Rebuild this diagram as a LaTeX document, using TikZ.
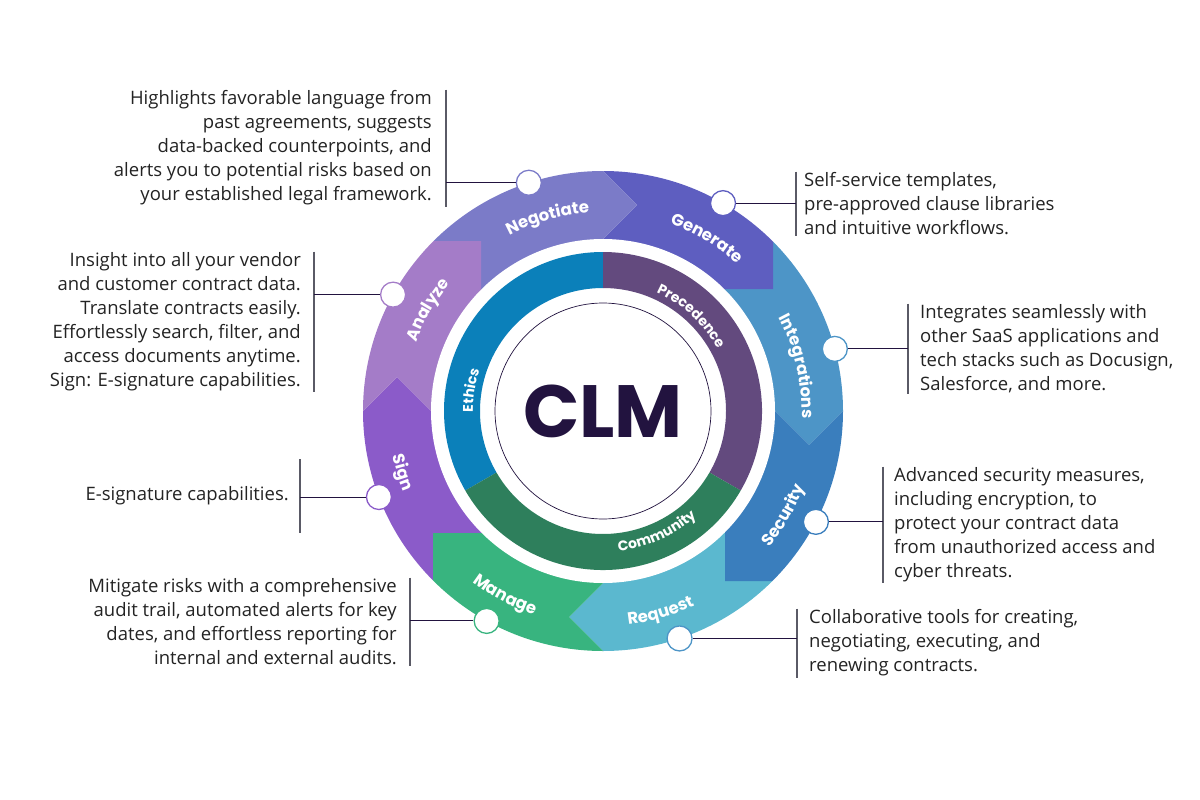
\documentclass[tikz,border=0pt]{standalone}
\usepackage{fontspec}
\setmainfont{Open Sans}
\newfontfamily\wheelfont{Poppins}
\newfontfamily\logofont{Poppins}
\usetikzlibrary{decorations.text}

\definecolor{negotiatecol}{HTML}{7B7BC8}
\definecolor{generatecol}{HTML}{5E5EC0}
\definecolor{integrationscol}{HTML}{4D95C7}
\definecolor{securitycol}{HTML}{3A7EBD}
\definecolor{requestcol}{HTML}{5BB8CF}
\definecolor{managecol}{HTML}{38B47F}
\definecolor{signcol}{HTML}{8B5BC9}
\definecolor{analyzecol}{HTML}{A47CC8}
\definecolor{ethicscol}{HTML}{0B80BA}
\definecolor{precedencecol}{HTML}{634A7E}
\definecolor{communitycol}{HTML}{2E7F5C}
\definecolor{clmdark}{HTML}{22133F}
\definecolor{notegray}{HTML}{232323}
\definecolor{bargray}{HTML}{5A5A66}

% curved labels: angle, baseline radius, size, text
\newcommand{\cwlabel}[4]{%
  \path[decorate, decoration={text along path, text align=center,
    text={|\wheelfont\bfseries\fontsize{#3}{#3}\selectfont\color{white}|#4}}]
    (#1+50:#2) arc[start angle=#1+50, end angle=#1-50, radius=#2];}
\newcommand{\ccwlabel}[4]{%
  \path[decorate, decoration={text along path, text align=center,
    text={|\wheelfont\bfseries\fontsize{#3}{#3}\selectfont\color{white}|#4}}]
    (#1-50:#2) arc[start angle=#1-50, end angle=#1+50, radius=#2];}

\tikzset{
  note/.style={font=\fontsize{18.5}{24}\selectfont, text=notegray, inner xsep=0pt, inner ysep=1pt},
  bar/.style={draw=bargray, line width=1.2pt},
  link/.style={draw=clmdark, line width=1pt},
  dot/.style={circle, fill=white, draw=#1, line width=1.3pt, minimum size=25pt, inner sep=0pt},
}

\begin{document}
\begin{tikzpicture}[x=1pt, y=-1pt]
  \useasboundingbox (0,0) rectangle (1200,800);

  \begin{scope}[shift={(603,411)}, y=1pt]
    % outer ring, one quadrant at a time
    \begin{scope}
      \clip (0,0) circle[radius=240];
      \foreach \i/\ca/\cb in {0/generatecol/integrationscol, 1/securitycol/requestcol,
                              2/managecol/signcol, 3/analyzecol/negotiatecol} {
        \begin{scope}[rotate=-90*\i]
          \fill[\cb] (0,0) -- (0,122) -- (170,122) -- (170,300) -- (300,300)
            -- (300,0) -- (240,0) -- (206,-34) -- (172,0) -- cycle;
          \fill[\ca] (0,172) -- (34,206) -- (0,240) -- (0,300) -- (170,300)
            -- (170,122) -- (0,122) -- cycle;
        \end{scope}
      }
    \end{scope}
    \fill[white] (0,0) circle[radius=172];

    % inner ring
    \foreach \a/\b/\c in {90/210/ethicscol, -30/90/precedencecol, 210/330/communitycol}
      \fill[\c] (\a:159) arc[start angle=\a, end angle=\b, radius=159]
        -- (\b:123) arc[start angle=\b, end angle=\a, radius=123] -- cycle;

    \draw[line width=0.7pt, clmdark] (0,0) circle[radius=108];
    \node[font=\logofont\bfseries\fontsize{74}{74}\selectfont, text=clmdark] (clm) at (0,0) {CLM};

    \cwlabel{106}{199}{16.5}{Negotiate}
    \cwlabel{59}{199}{16.5}{Generate}
    \cwlabel{13}{199}{16.5}{Integrations}
    \cwlabel{150}{199}{16.5}{Analyze}
    \ccwlabel{-30}{215}{16.5}{Security}
    \ccwlabel{-74}{215}{16.5}{Request}
    \ccwlabel{-118}{215}{16.5}{Manage}
    \ccwlabel{-163}{215}{16.5}{Sign}
    \cwlabel{171}{130}{14}{Ethics}
    \cwlabel{47}{130}{14}{Precedence}
    \ccwlabel{-66}{141}{14}{Community}

    \node[dot=negotiatecol] (negdot) at (108:240) {};
    \node[dot=generatecol] (gendot) at (60:240) {};
    \node[dot=integrationscol] (intdot) at (15:240) {};
    \node[dot=securitycol] (secdot) at (-27.5:240) {};
    \node[dot=integrationscol] (reqdot) at (-71.4:240) {};
    \node[dot=managecol] (mandot) at (-119:240) {};
    \node[dot=signcol] (signdot) at (-159:240) {};
    \node[dot=analyzecol] (anadot) at (151:240) {};
  \end{scope}

  % notes on the left
  \node[note, anchor=east, align=right] (negtext) at (432,148) {Highlights favorable language from\\past agreements, suggests\\data-backed counterpoints, and\\alerts you to potential risks based on\\your established legal framework.};
  \node[note, anchor=east, align=right] (anatext) at (301,322) {Insight into all your vendor\\and customer contract data.\\Translate contracts easily.\\Effortlessly search, filter, and\\access documents anytime.\\Sign: E-signature capabilities.};
  \node[note, anchor=east, align=right, minimum height=73pt] (signtext) at (289,496) {E-signature capabilities.};
  \node[note, anchor=east, align=right] (mantext) at (397,622) {Mitigate risks with a comprehensive\\audit trail, automated alerts for key\\dates, and effortless reporting for\\internal and external audits.};
  % notes on the right
  \node[note, anchor=west, align=left] (gentext) at (804,204) {Self-service templates,\\pre-approved clause libraries\\and intuitive workflows.};
  \node[note, anchor=west, align=left] (inttext) at (920,349) {Integrates seamlessly with\\other SaaS applications and\\tech stacks such as Docusign,\\Salesforce, and more.};
  \node[note, anchor=west, align=left] (sectext) at (894,525) {Advanced security measures,\\including encryption, to\\protect your contract data\\from unauthorized access and\\cyber threats.};
  \node[note, anchor=west, align=left] (reqtext) at (809,643) {Collaborative tools for creating,\\negotiating, executing, and\\renewing contracts.};

  \foreach \t/\d/\s in {negtext/negdot/14, anatext/anadot/13, signtext/signdot/11, mantext/mandot/13} {
    \coordinate (\t bar) at ([xshift=\s]\t.east);
    \draw[bar] ([xshift=\s]\t.north east) -- ([xshift=\s]\t.south east);
    \draw[link] (\d) -- (\d -| \t bar);
  }
  \foreach \t/\d/\s in {gentext/gendot/8, inttext/intdot/12, sectext/secdot/11, reqtext/reqdot/12} {
    \coordinate (\t bar) at ([xshift=-\s]\t.west);
    \draw[bar] ([xshift=-\s]\t.north west) -- ([xshift=-\s]\t.south west);
    \draw[link] (\d) -- (\d -| \t bar);
  }
\end{tikzpicture}
\end{document}
